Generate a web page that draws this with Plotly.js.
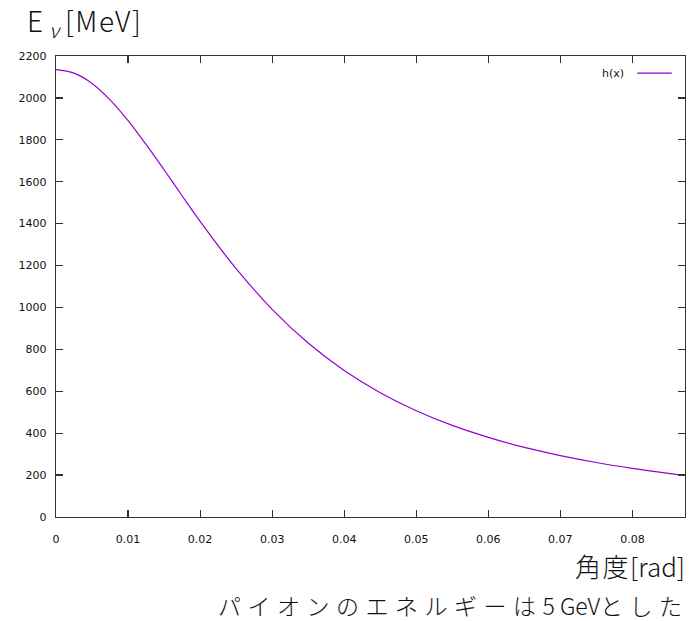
<!DOCTYPE html>
<html>
<head>
<meta charset="utf-8">
<script src="https://cdn.plot.ly/plotly-3.0.1.min.js"></script>
<style>html,body{margin:0;padding:0;background:#fff;}#chart{width:700px;height:621px;}</style>
</head>
<body>
<div id="chart"></div>
<script>
// angle [rad] and neutrino energy [MeV]
const angle = [0, 0.0025, 0.005, 0.0075, 0.01, 0.0125, 0.015, 0.0175, 0.02, 0.025, 0.03, 0.035, 0.04, 0.045, 0.05, 0.055, 0.06, 0.065, 0.07, 0.075, 0.08, 0.085, 0.0873];
const energy = [2135, 2118, 2069, 1991, 1892, 1778, 1657, 1533, 1411, 1185, 991, 830, 699, 593, 507, 437, 380, 332, 293, 260, 232, 208, 198];
const seriesName = 'h(x)';
const xTicks = [0, 0.01, 0.02, 0.03, 0.04, 0.05, 0.06, 0.07, 0.08];
const xTickText = ['0', '0.01', '0.02', '0.03', '0.04', '0.05', '0.06', '0.07', '0.08'];
const yTicks = [0, 200, 400, 600, 800, 1000, 1200, 1400, 1600, 1800, 2000, 2200];

const jp = '"Noto Sans CJK JP", "Noto Sans", sans-serif';
const tickFont = {family: '"DejaVu Sans", sans-serif', size: 11, color: '#111'};
const ls = (t, px) => '<span style="letter-spacing:' + px + 'px">' + t + '</span>';

const trace = {
  x: angle, y: energy, type: 'scatter', mode: 'lines', name: seriesName,
  line: {color: '#9400d3', width: 1.2, shape: 'spline'}, showlegend: false
};

const axisCommon = {
  showline: true, linecolor: '#333', linewidth: 1.2, mirror: 'ticks',
  ticks: 'inside', ticklen: 7, tickcolor: '#333', tickwidth: 1.2,
  showgrid: false, zeroline: false, tickfont: tickFont
};

const layout = {
  width: 700, height: 621,
  margin: {l: 56, r: 15, t: 56, b: 104},
  paper_bgcolor: '#fff', plot_bgcolor: '#fff',
  xaxis: Object.assign({}, axisCommon, {range: [0, 0.0873], tickvals: xTicks, ticktext: xTickText, ticklabelstandoff: 12}),
  yaxis: Object.assign({}, axisCommon, {range: [0, 2200], tickvals: yTicks, ticklabelstandoff: 6}),
  annotations: [
    {xref: 'paper', yref: 'paper', x: -0.05, y: 1.074, xanchor: 'left', yanchor: 'middle', showarrow: false,
     text: ls('E', 6) + '<sub><i>ν</i></sub> ' + ls('[MeV]', 1.5), font: {family: jp, size: 28, color: '#111', weight: 300}},
    {xref: 'paper', yref: 'paper', x: 1.003, y: -0.105, xanchor: 'right', yanchor: 'middle', showarrow: false,
     text: ls('角度', 1.5) + '[rad]', font: {family: jp, size: 26, color: '#111', weight: 300}},
    {xref: 'paper', yref: 'paper', x: 1.0095, y: -0.19, xanchor: 'right', yanchor: 'middle', showarrow: false,
     text: ls('パイオンのエネルギーは', 6.5) + '5 GeV' + ls('とした', 6.5), font: {family: jp, size: 23, color: '#111', weight: 300}},
    {xref: 'paper', yref: 'paper', x: 0.906, y: 0.963, xanchor: 'right', yanchor: 'middle', showarrow: false,
     text: seriesName, font: tickFont}
  ],
  shapes: [
    {type: 'line', xref: 'paper', yref: 'paper', x0: 0.924, x1: 0.979, y0: 0.963, y1: 0.963,
     line: {color: '#9400d3', width: 1.2}}
  ]
};

Plotly.newPlot('chart', [trace], layout, {displayModeBar: false, staticPlot: true});
</script>
</body>
</html>
